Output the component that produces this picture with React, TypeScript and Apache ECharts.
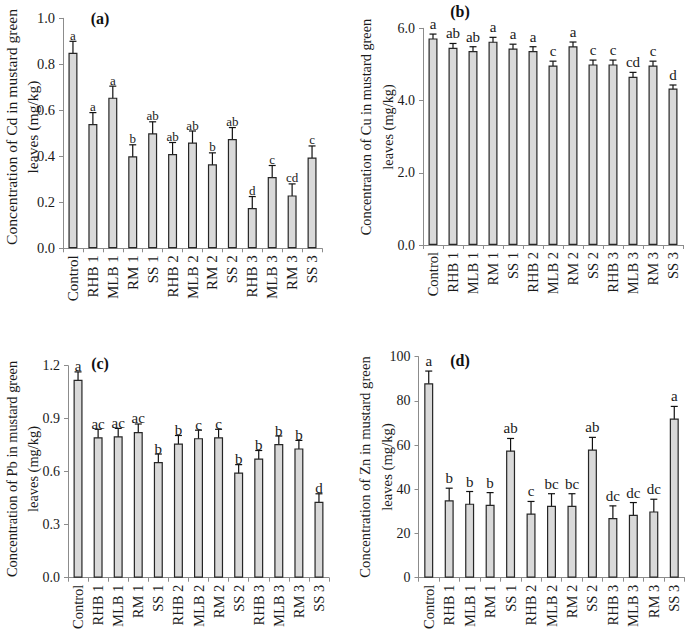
import React, { useEffect, useRef } from "react";
import * as echarts from "echarts";

const categories = ["Control", "RHB 1", "MLB 1", "RM 1", "SS 1", "RHB 2", "MLB 2", "RM 2", "SS 2", "RHB 3", "MLB 3", "RM 3", "SS 3"];

const cdMeans = [0.85, 0.54, 0.655, 0.4, 0.5, 0.41, 0.46, 0.365, 0.475, 0.175, 0.31, 0.23, 0.395];
const cdErrors = [0.05, 0.05, 0.05, 0.05, 0.05, 0.05, 0.05, 0.05, 0.05, 0.05, 0.05, 0.05, 0.05];
const cdLetters = ["a", "a", "a", "b", "ab", "ab", "ab", "b", "ab", "d", "c", "cd", "c"];

const cuMeans = [5.72, 5.46, 5.37, 5.63, 5.44, 5.37, 4.97, 5.5, 5.0, 5.0, 4.66, 4.97, 4.33];
const cuErrors = [0.12, 0.12, 0.12, 0.12, 0.12, 0.12, 0.12, 0.12, 0.12, 0.12, 0.12, 0.12, 0.1];
const cuLetters = ["a", "ab", "ab", "a", "a", "a", "c", "a", "c", "c", "cd", "c", "d"];

const pbMeans = [1.12, 0.795, 0.8, 0.825, 0.655, 0.76, 0.79, 0.795, 0.595, 0.675, 0.757, 0.732, 0.43];
const pbErrors = [0.045, 0.045, 0.045, 0.045, 0.045, 0.045, 0.045, 0.045, 0.045, 0.045, 0.045, 0.045, 0.045];
const pbLetters = ["a", "ac", "ac", "ac", "b", "b", "c", "c", "b", "b", "b", "b", "d"];

const znMeans = [88, 35, 33.5, 33, 57.5, 29, 32.5, 32.5, 58, 27, 28.5, 30, 72];
const znErrors = [5.5, 5.5, 5.5, 5.5, 5.5, 5.5, 5.5, 5.5, 5.5, 5.5, 5.5, 5.5, 5.5];
const znLetters = ["a", "b", "b", "b", "ab", "c", "bc", "bc", "ab", "dc", "dc", "dc", "a"];

const yTitles = [
  "Concentration of Cd in mustard green\nleaves (mg/kg)",
  "Concentration of Cu in mustard green\nleaves (mg/kg)",
  "Concentration of Pb in mustard green\nleaves (mg/kg)",
  "Concentration of Zn in mustard green\nleaves (mg/kg)",
];
const panelTags = ["(a)", "(b)", "(c)", "(d)"];

const FONT = "'Liberation Serif', 'Times New Roman', serif";
const TEXT = "#1a1a1a";
const AXIS = "#8c8c8c";

const panels = [
  { means: cdMeans, errs: cdErrors, letters: cdLetters, max: 1.0, interval: 0.2, dec: 1,
    grid: { left: 63, top: 18.3, width: 259, height: 230 }, tickFont: 14.5, catFont: 15, letterFont: 13, gap: 6,
    title: { x: 22.3, y: 127, size: 15.6, lh: 21.3 }, tag: { x: 100, y: 18 } },
  { means: cuMeans, errs: cuErrors, letters: cuLetters, max: 6, interval: 2, dec: 1,
    grid: { left: 423, top: 28.3, width: 260, height: 216.7 }, tickFont: 14, catFont: 14.5, letterFont: 15, gap: 10,
    title: { x: 376.7, y: 127, size: 14.3, lh: 22 }, tag: { x: 460, y: 11 } },
  { means: pbMeans, errs: pbErrors, letters: pbLetters, max: 1.2, interval: 0.3, dec: 1,
    grid: { left: 68, top: 365.7, width: 261, height: 212 }, tickFont: 14, catFont: 14.5, letterFont: 15, gap: 5.5,
    title: { x: 22.5, y: 469, size: 14.4, lh: 21.6 }, tag: { x: 100, y: 363 } },
  { means: znMeans, errs: znErrors, letters: znLetters, max: 100, interval: 20, dec: 0,
    grid: { left: 418.5, top: 356.7, width: 266, height: 221 }, tickFont: 14, catFont: 14.5, letterFont: 15, gap: 10,
    title: { x: 376, y: 467, size: 14.7, lh: 21.7 }, tag: { x: 460, y: 360 } },
];

export default function App() {
  const ref = useRef<HTMLDivElement>(null);
  useEffect(() => {
    if (!ref.current) return;
    const chart = echarts.init(ref.current, undefined, { renderer: "svg" });

    const grid = panels.map((p) => ({ ...p.grid, containLabel: false }));
    const xAxis = panels.map((p, i) => ({
      type: "category",
      gridIndex: i,
      data: categories,
      boundaryGap: true,
      axisLine: { show: true, lineStyle: { color: AXIS, width: 1 } },
      axisTick: { show: true, length: 4, lineStyle: { color: AXIS } },
      axisLabel: {
        interval: 0,
        rotate: 90,
        margin: 7,
        color: TEXT,
        fontFamily: FONT,
        fontSize: p.catFont,
      },
      splitLine: { show: false },
    }));
    const yAxis = panels.map((p, i) => ({
      type: "value",
      gridIndex: i,
      min: 0,
      max: p.max,
      interval: p.interval,
      axisLine: { show: true, lineStyle: { color: AXIS, width: 1 } },
      axisTick: { show: true, length: 4, lineStyle: { color: AXIS } },
      axisLabel: {
        margin: 8,
        color: TEXT,
        fontFamily: FONT,
        fontSize: p.tickFont,
        formatter: (v: number) => v.toFixed(p.dec),
      },
      splitLine: { show: false },
    }));

    const series: any[] = [];
    panels.forEach((p, i) => {
      series.push({
        type: "bar",
        xAxisIndex: i,
        yAxisIndex: i,
        data: p.means,
        barWidth: 9,
        itemStyle: { color: "#d9d9d9", borderColor: "#262626", borderWidth: 1.2 },
        silent: true,
      });
      series.push({
        type: "custom",
        xAxisIndex: i,
        yAxisIndex: i,
        data: p.means.map((m, k) => [k, m, p.errs[k]]),
        encode: { x: 0, y: 1 },
        clip: false,
        renderItem: (params: any, api: any) => {
          const k = api.value(0);
          const m = api.value(1);
          const e = api.value(2);
          const top = api.coord([k, m + e]);
          const bot = api.coord([k, m - e]);
          const h = 3.5;
          const st = { stroke: "#111", lineWidth: 1.2 };
          return {
            type: "group",
            children: [
              { type: "line", shape: { x1: top[0], y1: top[1], x2: bot[0], y2: bot[1] }, style: st },
              { type: "line", shape: { x1: top[0] - h, y1: top[1], x2: top[0] + h, y2: top[1] }, style: st },
              { type: "line", shape: { x1: bot[0] - h, y1: bot[1], x2: bot[0] + h, y2: bot[1] }, style: st },
              {
                type: "text",
                x: top[0],
                y: top[1] - p.gap,
                style: {
                  text: p.letters[params.dataIndex],
                  fill: TEXT,
                  font: `${p.letterFont}px ${FONT}`,
                  align: "center",
                  verticalAlign: "middle",
                },
              },
            ],
          };
        },
        silent: true,
      });
    });

    const graphic: any[] = [];
    panels.forEach((p, i) => {
      graphic.push({
        type: "text",
        x: p.title.x,
        y: p.title.y,
        rotation: Math.PI / 2,
        style: {
          text: yTitles[i],
          fill: TEXT,
          font: `${p.title.size}px ${FONT}`,
          lineHeight: p.title.lh,
          align: "center",
          verticalAlign: "middle",
        },
      });
      graphic.push({
        type: "text",
        x: p.tag.x,
        y: p.tag.y,
        style: {
          text: panelTags[i],
          fill: "#111",
          font: `bold 16px ${FONT}`,
          align: "center",
          verticalAlign: "middle",
        },
      });
    });

    chart.setOption({
      animation: false,
      backgroundColor: "#ffffff",
      grid,
      xAxis,
      yAxis,
      series,
      graphic,
    });
    return () => chart.dispose();
  }, []);
  return (
    <div
      ref={ref}
      style={{ position: "fixed", left: 0, top: 0, width: 685, height: 632 }}
    />
  );
}
